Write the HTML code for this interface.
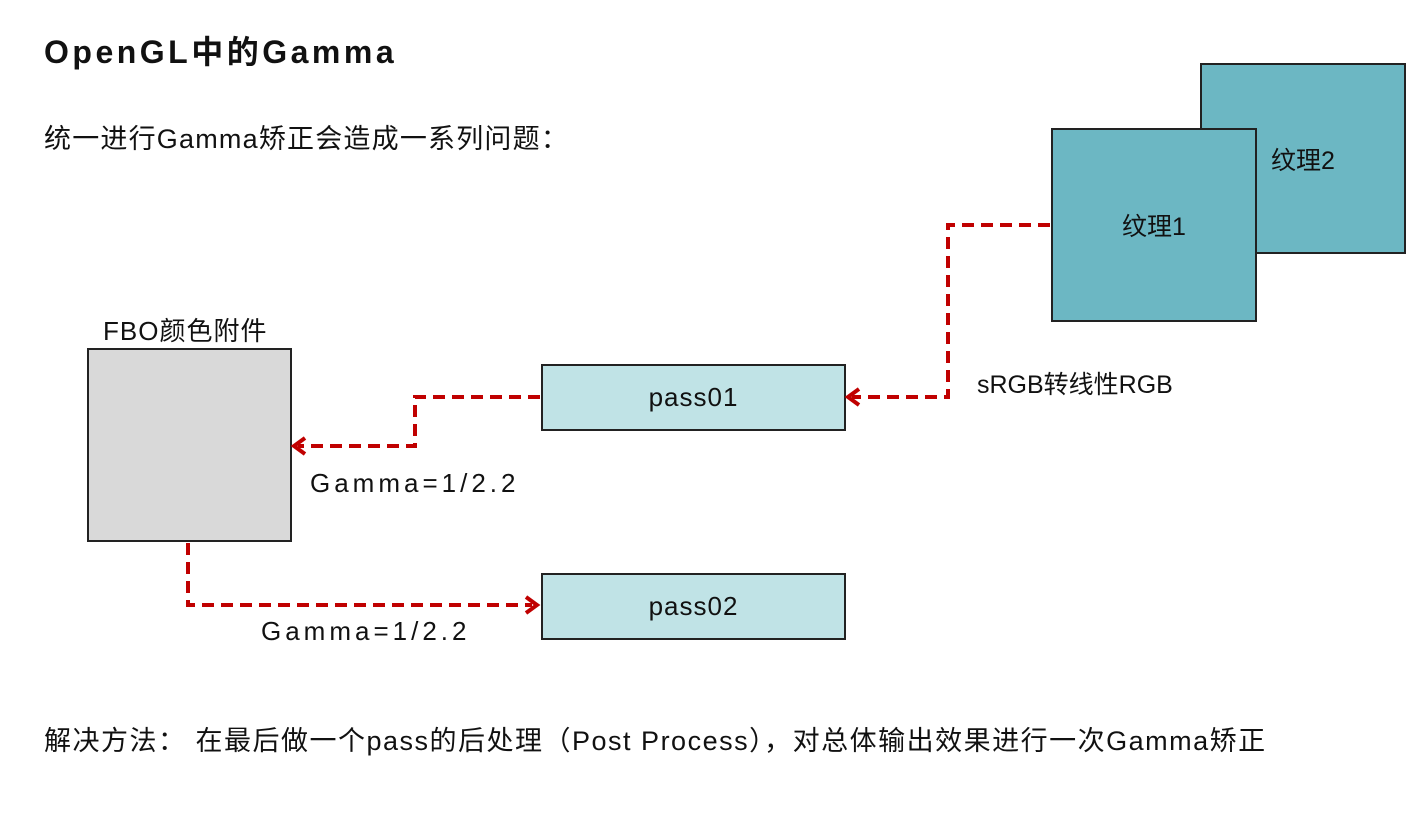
<!DOCTYPE html>
<html><head><meta charset="utf-8"><style>
body{margin:0;width:1428px;height:829px;background:#fff;position:relative;overflow:hidden;font-family:"Liberation Sans","Noto Sans CJK SC",sans-serif;color:#111}
.t{position:absolute;white-space:nowrap}
.b{position:absolute;box-sizing:border-box;border:2px solid #222;display:flex;align-items:center;justify-content:center;font-size:25px}
</style></head><body>
<div class="t" style="left:44px;top:27px;font-size:32px;font-weight:bold;letter-spacing:3.5px">OpenGL中的Gamma</div>
<div class="t" style="left:44px;top:117px;font-size:27px;letter-spacing:1.2px">统一进行Gamma矫正会造成一系列问题：</div>
<div class="b" style="left:1200px;top:63px;width:206px;height:191px;background:#6cb7c3">纹理2</div>
<div class="b" style="left:1051px;top:128px;width:206px;height:194px;background:#6cb7c3">纹理1</div>
<div class="b" style="left:541px;top:364px;width:305px;height:67px;background:#c0e3e6;font-size:26px;letter-spacing:1px">pass01</div>
<div class="b" style="left:541px;top:573px;width:305px;height:67px;background:#c0e3e6;font-size:26px;letter-spacing:1px">pass02</div>
<div class="b" style="left:87px;top:348px;width:205px;height:194px;background:#d9d9d9"></div>
<div class="t" style="left:103px;top:311px;font-size:26px;letter-spacing:1px">FBO颜色附件</div>
<div class="t" style="left:977px;top:365px;font-size:25px">sRGB转线性RGB</div>
<div class="t" style="left:310px;top:468px;font-size:26px;letter-spacing:4px">Gamma=1/2.2</div>
<div class="t" style="left:261px;top:616px;font-size:26px;letter-spacing:4px">Gamma=1/2.2</div>
<div class="t" style="left:44px;top:719px;font-size:27px;letter-spacing:1.5px">解决方法：&nbsp;在最后做一个pass的后处理（Post Process），对总体输出效果进行一次Gamma矫正</div>
<svg width="1428" height="829" style="position:absolute;left:0;top:0">
<g fill="none" stroke="#c00000" stroke-width="4" stroke-dasharray="12,7">
<polyline points="1050,225 948,225 948,397 852,397"/>
<polyline points="540,397 415,397 415,446 298,446"/>
<polyline points="188,543 188,605 532,605"/>
</g>
<g fill="none" stroke="#c00000" stroke-width="4">
<polyline points="859,389 848,397 859,405"/>
<polyline points="305,438 294,446 305,454"/>
<polyline points="526,597 537,605 526,613"/>
</g>
</svg>
</body></html>
